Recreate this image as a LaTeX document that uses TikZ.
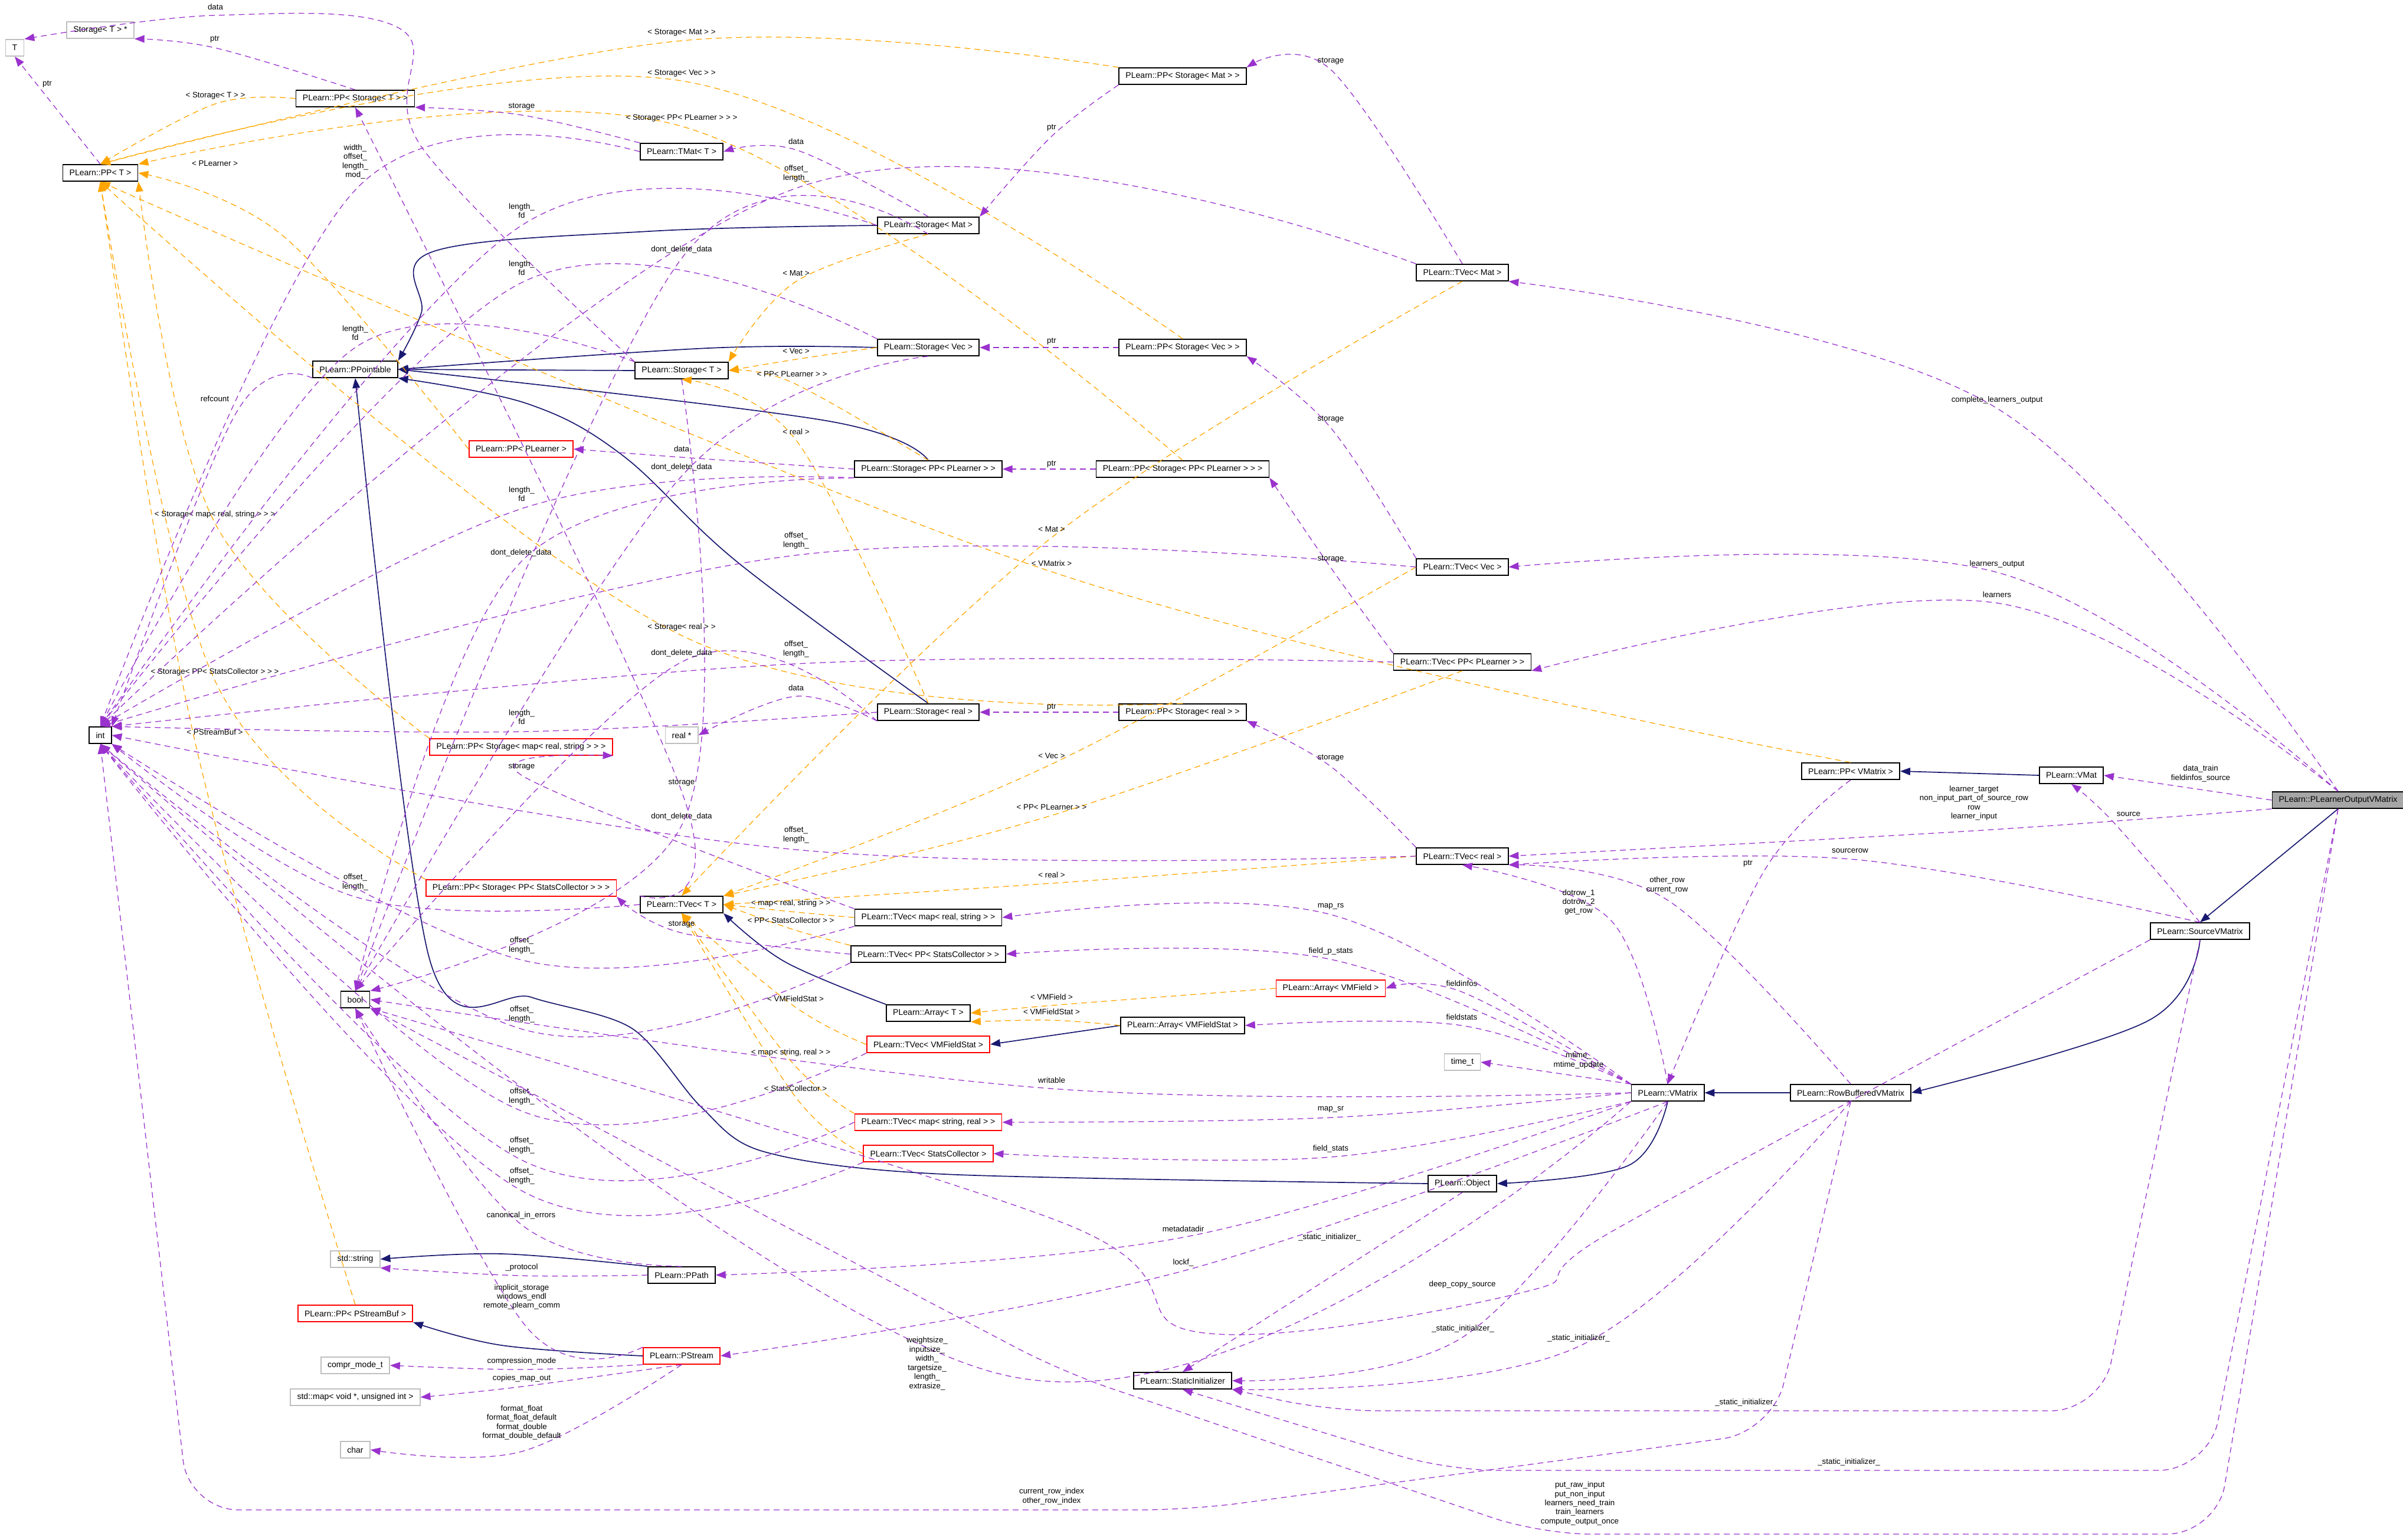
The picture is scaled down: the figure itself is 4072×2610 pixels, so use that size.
\documentclass[tikz,border=0pt]{standalone}
\usepackage{fontspec}
\setmainfont{Liberation Sans}
\usetikzlibrary{arrows.meta}
\definecolor{mem}{HTML}{9A32CD}
\definecolor{tpl}{HTML}{FFA500}
\definecolor{inh}{HTML}{191970}
\newcommand{\cvx}[6]{\draw[#1] plot[smooth,tension=0.6] coordinates {(#2) (#3) (#4)}; \node[lb] at (#5) {#6};}
\begin{document}
\begin{tikzpicture}[x=0.025cm,y=-0.025cm,
  every node/.style={font=\fontsize{10}{11.5}\selectfont},
  cls/.style={draw=black,line width=1.2pt,fill=white,inner xsep=8pt,inner ysep=2pt,minimum height=0.7cm},
  rcls/.style={cls,draw=red},
  gcls/.style={cls,draw=black!25},
  hcls/.style={cls,fill=black!35},
  mm/.style={draw=mem,dash pattern=on 7pt off 5pt,line width=0.9pt,-{Triangle[length=12pt,width=9pt]}},
  tp/.style={draw=tpl,dash pattern=on 7pt off 5pt,line width=0.9pt,-{Triangle[length=12pt,width=9pt]}},
  ih/.style={draw=inh,line width=1.2pt,-{Triangle[length=12pt,width=9pt]}},
  lb/.style={align=center,inner sep=1pt,font=\fontsize{9.5}{11}\selectfont}]
\useasboundingbox (0,0) rectangle (4072,2610);
% ---------- nodes ----------
\node[gcls] (T) at (25,81) {T};
\node[gcls] (stp) at (170,51) {Storage< T > *};
\node[cls] (ppT) at (170,293) {PLearn::PP< T >};
\node[cls] (ppST) at (602,167) {PLearn::PP< Storage< T > >};
\node[cls] (tmat) at (1155,257) {PLearn::TMat< T >};
\node[cls] (ppt) at (602,626) {PLearn::PPointable};
\node[cls] (stT) at (1155,628) {PLearn::Storage< T >};
\node[rcls] (ppPL) at (883,761) {PLearn::PP< PLearner >};
\node[cls] (int) at (170,1246) {int};
\node[rcls] (ppSMap) at (883,1266) {PLearn::PP< Storage< map< real, string > > >};
\node[gcls] (realp) at (1155,1246) {real *};
\node[rcls] (ppSSC) at (883,1505) {PLearn::PP< Storage< PP< StatsCollector > > >};
\node[cls] (tvT) at (1155,1533) {PLearn::TVec< T >};
\node[cls] (bool) at (602,1694) {bool};
\node[gcls] (str) at (602,2134) {std::string};
\node[cls] (ppath) at (1155,2161) {PLearn::PPath};
\node[rcls] (ppBuf) at (602,2226) {PLearn::PP< PStreamBuf >};
\node[rcls] (pstream) at (1155,2298) {PLearn::PStream};
\node[gcls] (compr) at (602,2314) {compr\_mode\_t};
\node[gcls] (stdmap) at (602,2368) {std::map< void *, unsigned int >};
\node[gcls] (chr) at (602,2457) {char};
\node[cls] (ppSMat) at (2004,129) {PLearn::PP< Storage< Mat > >};
\node[cls] (stMat) at (1573,382) {PLearn::Storage< Mat >};
\node[cls] (tvMat) at (2478,462) {PLearn::TVec< Mat >};
\node[cls] (stVec) at (1573,589) {PLearn::Storage< Vec >};
\node[cls] (ppSVec) at (2004,589) {PLearn::PP< Storage< Vec > >};
\node[cls] (stPL) at (1573,795) {PLearn::Storage< PP< PLearner > >};
\node[cls] (ppSPL) at (2004,795) {PLearn::PP< Storage< PP< PLearner > > >};
\node[cls] (tvVec) at (2478,961) {PLearn::TVec< Vec >};
\node[cls] (tvPL) at (2478,1122) {PLearn::TVec< PP< PLearner > >};
\node[cls] (stReal) at (1573,1207) {PLearn::Storage< real >};
\node[cls] (ppSReal) at (2004,1207) {PLearn::PP< Storage< real > >};
\node[cls] (tvReal) at (2478,1451) {PLearn::TVec< real >};
\node[cls] (tvMapRS) at (1573,1555) {PLearn::TVec< map< real, string > >};
\node[cls] (tvPSC) at (1573,1617) {PLearn::TVec< PP< StatsCollector > >};
\node[rcls] (arrVMF) at (2255,1675) {PLearn::Array< VMField >};
\node[cls] (arrT) at (1573,1717) {PLearn::Array< T >};
\node[cls] (arrVMFS) at (2004,1738) {PLearn::Array< VMFieldStat >};
\node[rcls] (tvVMFS) at (1573,1770) {PLearn::TVec< VMFieldStat >};
\node[gcls] (timet) at (2478,1800) {time\_t};
\node[rcls] (tvMapSR) at (1573,1902) {PLearn::TVec< map< string, real > >};
\node[rcls] (tvSC) at (1573,1955) {PLearn::TVec< StatsCollector >};
\node[cls] (obj) at (2478,2006) {PLearn::Object};
\node[cls] (sinit) at (2004,2340) {PLearn::StaticInitializer};
\node[cls] (ppVM) at (3136,1307) {PLearn::PP< VMatrix >};
\node[cls] (vmat) at (3510,1314) {PLearn::VMat};
\node[hcls] (plovm) at (3962,1356) {PLearn::PLearnerOutputVMatrix};
\node[cls] (srcvm) at (3728,1578) {PLearn::SourceVMatrix};
\node[cls] (vmatrix) at (2826,1852) {PLearn::VMatrix};
\node[cls] (rowbuf) at (3136,1852) {PLearn::RowBufferedVMatrix};
% ---------- inheritance ----------
\draw[ih] plot[smooth,tension=0.6] coordinates {(stMat.west) (1100,392) (732,427) (714,530) (ppt.north east)};
\draw[ih] plot[smooth,tension=0.6] coordinates {(stVec.west) (1200,590) (ppt.east)};
\draw[ih] (stT.west) -- (ppt.east);
\draw[ih] plot[smooth,tension=0.6] coordinates {(stPL.north) (1400,713) (ppt.east)};
\draw[ih] plot[smooth,tension=0.6] coordinates {(stReal.north) (1250,953) (1054,771) (893,684) (ppt.south east)};
\draw[ih] plot[smooth,tension=0.5] coordinates {(obj.west) (1600,1990) (1295,1952) (1188,1876) (1071,1743) (900,1690) (728,1626) (ppt.south)};
\draw[ih] plot[smooth,tension=0.6] coordinates {(arrT.north west) (1330,1630) (tvT.south east)};
\draw[ih] (arrVMFS.west) -- (tvVMFS.east);
\draw[ih] plot[smooth,tension=0.6] coordinates {(ppath.north west) (850,2125) (str.east)};
\draw[ih] plot[smooth,tension=0.6] coordinates {(pstream.west) (850,2280) (ppBuf.south east)};
\draw[ih] (vmat.west) -- (ppVM.east);
\draw[ih] (plovm.south) -- (srcvm.north);
\draw[ih] plot[smooth,tension=0.6] coordinates {(srcvm.south) (3640,1730) (rowbuf.east)};
\draw[ih] (rowbuf.west) -- (vmatrix.east);
\draw[ih] plot[smooth,tension=0.6] coordinates {(vmatrix.south) (2760,1975) (obj.east)};
% ---------- template ----------
\cvx{tp}{ppSMat.north west}{1155,69}{ppT.north}{1155,55}{< Storage< Mat > >}
\cvx{tp}{ppSVec.north}{1155,137}{ppT.north}{1155,124}{< Storage< Vec > >}
\cvx{tp}{ppST.west}{365,176}{ppT.north}{365,162}{< Storage< T > >}
\cvx{tp}{ppSPL.north}{1155,214}{ppT.north east}{1155,200}{< Storage< PP< PLearner > > >}
\cvx{tp}{ppPL.west}{480,400}{ppT.east}{364,277}{< PLearner >}
\cvx{tp}{ppSMap.north west}{364,886}{ppT.south east}{364,872}{< Storage< map< real, string > > >}
\cvx{tp}{ppSReal.north}{1155,1077}{ppT.south}{1155,1063}{< Storage< real > >}
\cvx{tp}{ppSSC.north west}{364,1153}{ppT.south}{364,1139}{< Storage< PP< StatsCollector > > >}
\cvx{tp}{ppBuf.north}{330,1255}{ppT.south}{364,1241}{< PStreamBuf >}
\cvx{tp}{ppVM.north}{1782,969}{ppT.south}{1782,955}{< VMatrix >}
\cvx{tp}{stMat.south}{1349,477}{stT.north east}{1349,463}{< Mat >}
\cvx{tp}{stVec.west}{1349,609}{stT.east}{1349,595}{< Vec >}
\cvx{tp}{stPL.north}{1342,648}{stT.east}{1342,634}{< PP< PLearner > >}
\cvx{tp}{stReal.north}{1349,746}{stT.south}{1349,732}{< real >}
\cvx{tp}{tvMat.south}{1782,911}{tvT.north}{1782,897}{< Mat >}
\cvx{tp}{tvVec.west}{1782,1295}{tvT.north east}{1782,1281}{< Vec >}
\cvx{tp}{tvPL.south}{1782,1382}{tvT.north east}{1782,1368}{< PP< PLearner > >}
\cvx{tp}{tvReal.west}{1782,1497}{tvT.east}{1782,1483}{< real >}
\cvx{tp}{tvMapRS.west}{1340,1545}{tvT.east}{1340,1531}{< map< real, string > >}
\cvx{tp}{tvPSC.north west}{1340,1574}{tvT.east}{1340,1560}{< PP< StatsCollector > >}
\cvx{tp}{tvVMFS.west}{1348,1707}{tvT.south}{1348,1693}{< VMFieldStat >}
\cvx{tp}{tvMapSR.north west}{1340,1798}{tvT.south}{1340,1784}{< map< string, real > >}
\cvx{tp}{tvSC.west}{1348,1859}{tvT.south}{1348,1845}{< StatsCollector >}
\cvx{tp}{arrVMF.west}{1782,1704}{arrT.east}{1782,1690}{< VMField >}
\cvx{tp}{arrVMFS.west}{1782,1729}{arrT.south east}{1782,1715}{< VMFieldStat >}
% ---------- members ----------
\draw[mm] (ppT.north) -- (T.south); \node[lb] at (80,143) {ptr};
\draw[mm] plot[smooth,tension=0.6] coordinates {(stT.north west) (715,250) (680,50) (365,26) (T.north east)}; \node[lb] at (365,12) {data};
\cvx{mm}{ppST.north}{364,81}{stp.south east}{364,67}{ptr}
\cvx{mm}{tmat.north west}{884,195}{ppST.south east}{884,181}{storage}
\cvx{mm}{stMat.north}{1349,254}{tmat.east}{1349,240}{data}
\cvx{mm}{tmat.west}{602,322}{int.north}{602,274}{width\_\\offset\_\\length\_\\mod\_}
\cvx{mm}{ppt.south west}{400,700}{int.north east}{364,676}{refcount}
\cvx{mm}{stMat.west}{884,382}{int.north}{884,357}{length\_\\fd}
\cvx{mm}{stVec.north west}{884,479}{int.north}{884,454}{length\_\\fd}
\cvx{mm}{stT.north west}{602,589}{int.north}{602,564}{length\_\\fd}
\cvx{mm}{stPL.south west}{884,862}{int.north}{884,837}{length\_\\fd}
\cvx{mm}{stReal.west}{884,1240}{int.north east}{884,1215}{length\_\\fd}
\cvx{mm}{tvMat.north west}{1349,319}{int.north}{1349,294}{offset\_\\length\_}
\cvx{mm}{tvVec.west}{1349,941}{int.north}{1349,916}{offset\_\\length\_}
\cvx{mm}{tvPL.west}{1349,1125}{int.north east}{1349,1100}{offset\_\\length\_}
\cvx{mm}{tvReal.west}{1349,1440}{int.east}{1349,1415}{offset\_\\length\_}
\cvx{mm}{tvT.west}{602,1520}{int.south east}{602,1495}{offset\_\\length\_}
\cvx{mm}{tvMapRS.south west}{884,1627}{int.south east}{884,1602}{offset\_\\length\_}
\cvx{mm}{tvPSC.south west}{884,1744}{int.south}{884,1719}{offset\_\\length\_}
\cvx{mm}{tvVMFS.south west}{884,1883}{int.south}{884,1858}{offset\_\\length\_}
\cvx{mm}{tvMapSR.west}{884,1966}{int.south}{884,1941}{offset\_\\length\_}
\cvx{mm}{tvSC.south west}{884,2018}{int.south}{884,1993}{offset\_\\length\_}
\cvx{mm}{vmatrix.south west}{1700,2330}{int.south}{1571,2311}{weightsize\_\\inputsize\_\\width\_\\targetsize\_\\length\_\\extrasize\_}
\draw[mm,rounded corners=60pt] (rowbuf.south) -- (3003,2427) -- (2017,2559) -- (320,2559) -- (int.south);
\node[lb] at (1782,2536) {current\_row\_index\\other\_row\_index};
\cvx{mm}{stMat.south}{1155,438}{bool.north}{1155,423}{dont\_delete\_data}
\cvx{mm}{stVec.south}{1155,807}{bool.north}{1155,792}{dont\_delete\_data}
\cvx{mm}{stPL.south west}{883,952}{bool.north}{883,937}{dont\_delete\_data}
\cvx{mm}{stReal.south west}{1155,1122}{bool.north}{1155,1107}{dont\_delete\_data}
\cvx{mm}{stT.south}{1155,1399}{bool.north east}{1155,1384}{dont\_delete\_data}
\cvx{mm}{ppath.north}{883,2075}{bool.south}{883,2060}{canonical\_in\_errors}
\cvx{mm}{pstream.north west}{893,2250}{bool.south}{884,2198}{implicit\_storage\\windows\_endl\\remote\_plearn\_comm}
\cvx{mm}{vmatrix.west}{1782,1845}{bool.east}{1782,1831}{writable}
\draw[mm] plot[smooth,tension=0.6] coordinates {(srcvm.south west) (2742,2081) (2582,2190) (2032,2258) (1800,2072) (bool.south east)}; \node[lb] at (2478,2177) {deep\_copy\_source};
\draw[mm,rounded corners=60pt] (plovm.south) -- (3756,2600) -- (2611,2600) -- (1800,2325) -- (bool.south east);
\node[lb] at (2677,2548) {put\_raw\_input\\put\_non\_input\\learners\_need\_train\\train\_learners\\compute\_output\_once};
\cvx{mm}{ppath.west}{884,2162}{str.south east}{884,2148}{\_protocol}
\cvx{mm}{pstream.south west}{884,2321}{compr.east}{884,2307}{compression\_mode}
\cvx{mm}{pstream.south}{884,2350}{stdmap.east}{884,2336}{copies\_map\_out}
\cvx{mm}{pstream.south}{884,2460}{chr.east}{884,2411}{format\_float\\format\_float\_default\\format\_double\\format\_double\_default}
\cvx{mm}{tvMat.north}{2255,118}{ppSMat.north east}{2255,104}{storage}
\cvx{mm}{ppSMat.south west}{1782,231}{stMat.north east}{1782,217}{ptr}
\draw[mm] (ppSVec.west) -- (stVec.east); \node[lb] at (1782,579) {ptr};
\cvx{mm}{tvVec.north west}{2255,725}{ppSVec.south east}{2255,711}{storage}
\draw[mm] (ppSPL.west) -- (stPL.east); \node[lb] at (1782,787) {ptr};
\cvx{mm}{tvPL.north west}{2255,962}{ppSPL.south east}{2255,948}{storage}
\cvx{mm}{stPL.west}{1155,775}{ppPL.east}{1155,761}{data}
\draw[mm] (ppSReal.west) -- (stReal.east); \node[lb] at (1782,1199) {ptr};
\cvx{mm}{tvReal.north west}{2255,1299}{ppSReal.south east}{2255,1285}{storage}
\cvx{mm}{stReal.south west}{1349,1180}{realp.east}{1349,1166}{data}
\cvx{mm}{tvMapRS.north west}{884,1314}{ppSMap.south east}{884,1300}{storage}
\cvx{mm}{tvT.north west}{1155,1341}{ppST.south}{1155,1327}{storage}
\cvx{mm}{tvPSC.west}{1155,1581}{ppSSC.south east}{1155,1567}{storage}
\cvx{mm}{plovm.north}{3384,692}{tvMat.south east}{3384,678}{complete\_learners\_output}
\cvx{mm}{plovm.north}{3384,970}{tvVec.east}{3384,956}{learners\_output}
\cvx{mm}{plovm.north}{3384,1022}{tvPL.south east}{3384,1008}{learners}
\draw[mm] (plovm.west) -- (vmat.east); \node[lb] at (3729,1311) {data\_train\\fieldinfos\_source};
\cvx{mm}{plovm.south west}{3345,1408}{tvReal.east}{3345,1361}{learner\_target\\non\_input\_part\_of\_source\_row\\row\\learner\_input}
\cvx{mm}{srcvm.north}{3135,1456}{tvReal.south east}{3135,1442}{sourcerow}
\cvx{mm}{rowbuf.north}{2825,1525}{tvReal.south east}{2825,1500}{other\_row\\current\_row}
\cvx{mm}{vmatrix.north}{2730,1560}{tvReal.south}{2675,1529}{dotrow\_1\\dotrow\_2\\get\_row}
\cvx{mm}{srcvm.north}{3580,1392}{vmat.south}{3607,1380}{source}
\cvx{mm}{ppVM.south}{2990,1475}{vmatrix.north}{2962,1464}{ptr}
\cvx{mm}{vmatrix.north west}{2255,1550}{tvMapRS.east}{2255,1536}{map\_rs}
\cvx{mm}{vmatrix.north west}{2255,1626}{tvPSC.east}{2255,1612}{field\_p\_stats}
\cvx{mm}{vmatrix.north west}{2477,1681}{arrVMF.east}{2477,1667}{fieldinfos}
\cvx{mm}{vmatrix.north west}{2477,1738}{arrVMFS.east}{2477,1724}{fieldstats}
\draw[mm] (vmatrix.north west) -- (timet.east); \node[lb] at (2675,1797) {mtime\_\\mtime\_update};
\cvx{mm}{vmatrix.west}{2255,1894}{tvMapSR.east}{2255,1880}{map\_sr}
\cvx{mm}{vmatrix.south west}{2255,1961}{tvSC.east}{2255,1947}{field\_stats}
\cvx{mm}{vmatrix.south west}{2005,2097}{ppath.east}{2005,2083}{metadatadir}
\cvx{mm}{vmatrix.south}{2005,2154}{pstream.east}{2005,2140}{lockf\_}
\draw[mm] (obj.south) -- (sinit.north); \node[lb] at (2253,2097) {\_static\_initializer\_};
\cvx{mm}{vmatrix.south}{2479,2266}{sinit.east}{2479,2252}{\_static\_initializer\_}
\cvx{mm}{rowbuf.south}{2675,2282}{sinit.south east}{2675,2268}{\_static\_initializer\_}
\draw[mm,rounded corners=60pt] (srcvm.south) -- (3560,2391) -- (2250,2391) -- (sinit.south east);
\node[lb] at (2959,2377) {\_static\_initializer\_};
\draw[mm,rounded corners=60pt] (plovm.south) -- (3742,2492) -- (2452,2492) -- (sinit.south);
\node[lb] at (3133,2478) {\_static\_initializer\_};
\end{tikzpicture}
\end{document}
